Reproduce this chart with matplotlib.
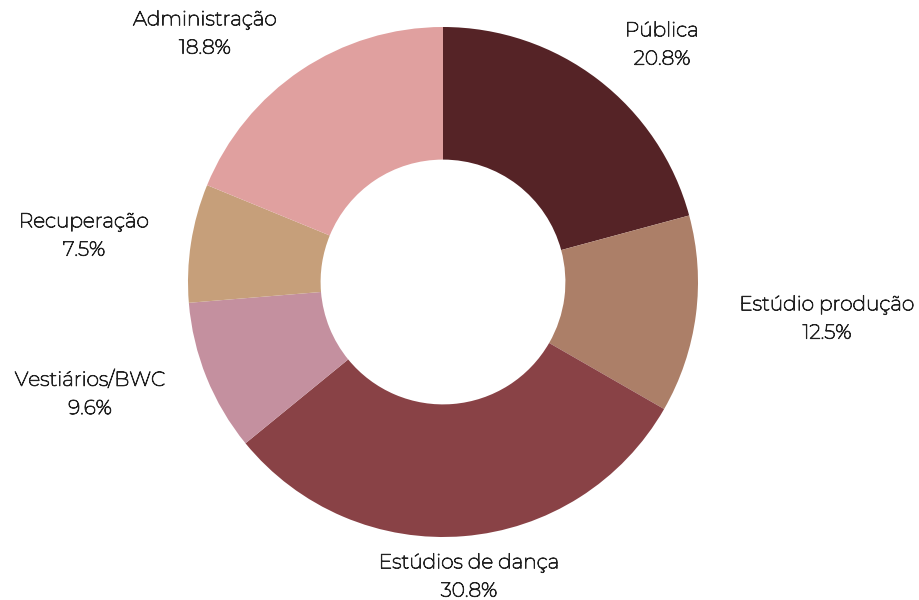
import matplotlib.pyplot as plt
import matplotlib.patheffects as pe

labels = ["Pública", "Estúdio produção", "Estúdios de dança",
          "Vestiários/BWC", "Recuperação", "Administração"]
values = [20.8, 12.5, 30.8, 9.6, 7.5, 18.8]
colors = ["#552326", "#AC7F68", "#894246", "#C4909F", "#C69F7A", "#E0A09F"]

# label centres in image pixels (x, y from top)
label_px = [(662, 45), (827, 319), (469, 577), (90, 394), (84, 236), (205, 34)]

W, H = 920, 600
cx, cy, R = 443, 282, 255

plt.rcParams['font.family'] = ['Montserrat', 'Noto Sans', 'DejaVu Sans']

fig = plt.figure(figsize=(W / 100, H / 100), dpi=100)
ax = fig.add_axes([0, 0, 1, 1])

ax.pie(values, colors=colors, startangle=90, counterclock=False,
       radius=1, wedgeprops=dict(width=0.52, linewidth=0))

ax.set_xlim(-cx / R, (W - cx) / R)
ax.set_ylim(-(H - cy) / R, cy / R)
ax.set_aspect('equal')
ax.axis('off')

# the installed Montserrat renders very thin, thicken it a bit
thick = [pe.withStroke(linewidth=0.65, foreground='#222222')]
for lab, v, (px, py) in zip(labels, values, label_px):
    ax.text((px - cx) / R, (cy - py) / R, f"{lab}\n{v:.1f}%",
            ha='center', va='center', fontsize=14.5, color='#222222',
            linespacing=1.62, path_effects=thick)

fig.savefig("out.png", dpi=100)
